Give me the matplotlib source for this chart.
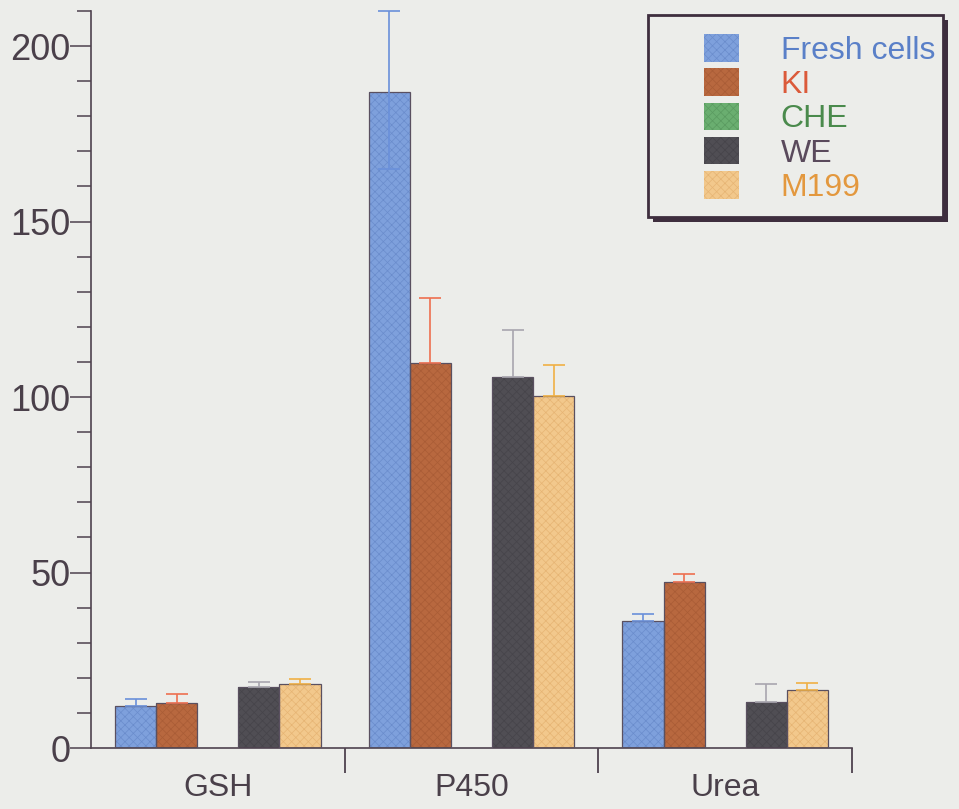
import numpy as np
import matplotlib
matplotlib.use("Agg")
import matplotlib.pyplot as plt
from matplotlib.patches import Patch, Rectangle

plt.rcParams['font.family'] = ['Liberation Sans', 'DejaVu Sans']
plt.rcParams['hatch.linewidth'] = 0.5

# data
groups = ['GSH', 'P450', 'Urea']
series = ['Fresh cells', 'KI', 'CHE', 'WE', 'M199']
fresh = [12.0, 187.0, 36.3]
ki = [12.8, 109.6, 47.3]
che = [0.0, 0.0, 0.0]
we = [17.5, 105.6, 13.2]
m199 = [18.2, 100.2, 16.5]
fresh_err = [2.0, 23.0, 1.8]
ki_err = [2.5, 18.6, 2.4]
che_err = [0.0, 0.0, 0.0]
we_err = [1.4, 13.6, 5.1]
m199_err = [1.5, 9.0, 2.0]
fresh_err_low = [0.0, 22.0, 0.0]

values = [fresh, ki, che, we, m199]
errors = [fresh_err, ki_err, che_err, we_err, m199_err]
low_errors = [fresh_err_low, [0, 0, 0], [0, 0, 0], [0, 0, 0], [0, 0, 0]]

bar_colors = ['#7ea0dc', '#b8683f', '#6aae70', '#504e54', '#f2c88c']
hatch_colors = ['#6a8ccc', '#a95c36', '#5a9a60', '#46444a', '#e6b474']
err_colors = ['#6a90da', '#ee7050', '#5a9a5a', '#a8a6ae', '#f0b045']
text_colors = ['#5a80c8', '#db5a3a', '#4a8a4c', '#5a4a5c', '#e3983e']
axis_color = '#4e424e'
label_color = '#4a404a'
bg = '#ecedea'

fig = plt.figure(figsize=(9.59, 8.09), dpi=100, facecolor=bg)
ax = fig.add_axes([91 / 959, 61 / 809, 761 / 959, 737 / 809])
ax.set_facecolor(bg)

x = np.arange(len(groups))
w = 0.162
offsets = (np.arange(len(series)) - 2) * w

for i in range(len(series)):
    keep = np.array(values[i]) > 0
    if not keep.any():
        continue
    xs = (x + offsets[i])[keep]
    vals = np.array(values[i])[keep]
    ax.bar(xs, vals, width=w, color=bar_colors[i], edgecolor=hatch_colors[i],
           hatch='xxxx', linewidth=0, zorder=2)
    ax.bar(xs, vals, width=w, color='none', edgecolor='#5a5060',
           linewidth=0.9, zorder=3)
    yerr = [np.array(low_errors[i])[keep], np.array(errors[i])[keep]]
    ax.errorbar(xs, vals, yerr=yerr, fmt='none',
                ecolor=err_colors[i], elinewidth=1.2, capsize=8, capthick=1.2,
                zorder=4, clip_on=False)

ax.set_xlim(-0.5, 2.5)
ax.set_ylim(0, 210)

for s in ['top', 'right']:
    ax.spines[s].set_visible(False)
for s in ['left', 'bottom']:
    ax.spines[s].set_color(axis_color)
    ax.spines[s].set_linewidth(1.2)

ax.set_yticks([0, 50, 100, 150, 200])
ax.set_yticks(np.arange(0, 211, 10), minor=True)
ax.tick_params(axis='y', which='major', length=15, width=1.1, color=axis_color,
               labelsize=26, labelcolor=label_color, pad=0)
ax.tick_params(axis='y', which='minor', length=10, width=1.1, color=axis_color)

ax.set_xticks([0.5, 1.5, 2.5])
ax.set_xticklabels([])
ax.set_xticks(x, minor=True)
ax.set_xticklabels(groups, minor=True)
ax.tick_params(axis='x', which='major', length=18, width=1.3, color=axis_color)
ax.tick_params(axis='x', which='minor', length=0, labelsize=23,
               labelcolor=label_color, pad=18)

# legend box with drop shadow
fig.patches.append(Rectangle((653 / 959, 1 - 222 / 809), 295 / 959, 202 / 809,
                             transform=fig.transFigure, facecolor='#3e2e3e',
                             edgecolor='none', zorder=5))
fig.patches.append(Rectangle((648 / 959, 1 - 217 / 809), 295 / 959, 202 / 809,
                             transform=fig.transFigure, facecolor=bg,
                             edgecolor='#3e2e3e', linewidth=2, zorder=6))

handles = [Patch(facecolor=bar_colors[i], edgecolor=hatch_colors[i], hatch='xxxx',
                 linewidth=0) for i in range(len(series))]
leg = fig.legend(handles, series, loc='upper left',
                 bbox_to_anchor=(704 / 959, 1 - 34 / 809), fontsize=23,
                 labelcolor=text_colors, frameon=False,
                 handlelength=1.1, handleheight=0.95, handletextpad=1.3,
                 labelspacing=0.08, borderpad=0, borderaxespad=0)
leg.set_zorder(7)

fig.savefig('out.png', dpi=100, facecolor=bg)
